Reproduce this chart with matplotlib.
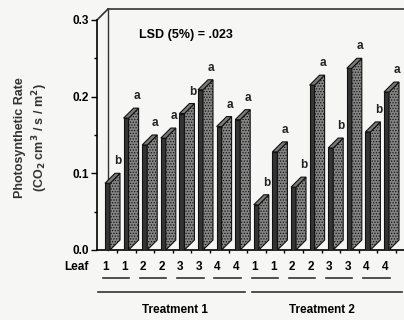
import matplotlib.pyplot as plt
from matplotlib.patches import Polygon

plt.rcParams['font.family'] = ['Liberation Sans', 'DejaVu Sans']
plt.rcParams['font.weight'] = 'bold'
plt.rcParams['hatch.color'] = '#5e5e5e'
plt.rcParams['hatch.linewidth'] = 0.6

# bar heights (front edge)
leaf = ['1', '1', '2', '2', '3', '3', '4', '4']
treatment1 = [0.087, 0.172, 0.137, 0.146, 0.178, 0.209, 0.161, 0.170]
treatment2 = [0.059, 0.128, 0.082, 0.215, 0.133, 0.237, 0.154, 0.206]
letters1 = ['b', 'a', 'a', 'a', 'b', 'a', 'a', 'a']
letters2 = ['b', 'a', 'b', 'a', 'b', 'a', 'b', 'a']
groups = ['Treatment 1', 'Treatment 2']

values = treatment1 + treatment2
letters = letters1 + letters2
labels = leaf + leaf

W, H = 404, 320
fig = plt.figure(figsize=(W / 100, H / 100), dpi=100)
fig.patch.set_facecolor('#f6f6f4')
ax = fig.add_axes([97 / W, 70 / H, 307 / W, 230 / H])
ax.set_facecolor('#f6f6f4')

# one x unit = bar spacing (18.6 px), one y unit = 766.7 px
px_x = 1 / 18.6
px_y = 0.3 / 230
xl, xr = -8 * px_x, 299 * px_x
ax.set_xlim(xl, xr)
ax.set_ylim(0, 0.3)

fw = 5 * px_x      # front face width
dx = 10 * px_x     # depth offset
dy = 10 * px_y

for i, v in enumerate(values):
    front = Polygon([(i, 0), (i + fw, 0), (i + fw, v), (i, v)],
                    facecolor='#343434', edgecolor='#111111', lw=0.8, zorder=3)
    side = Polygon([(i + fw, 0), (i + fw + dx, dy), (i + fw + dx, v + dy), (i + fw, v)],
                   facecolor='#858585', edgecolor='#111111', lw=0.8, zorder=3,
                   hatch='......')
    top = Polygon([(i, v), (i + fw, v), (i + fw + dx, v + dy), (i + dx, v + dy)],
                  facecolor='#7a7a7a', edgecolor='#111111', lw=0.8, zorder=4)
    for p in (front, side, top):
        ax.add_patch(p)
    ax.text(i + 13 * px_x, v + dy + 12 * px_y, letters[i], ha='center', va='center',
            fontsize=8.5, color='#222222', zorder=5)

# 3d frame
wall_dx = 11 * px_x
wall_dy = 11 * px_y
ax.plot([xl, xl + wall_dx], [0.3, 0.3 + wall_dy], color='#333333', lw=1.2, clip_on=False)
ax.plot([xl + wall_dx, xr], [0.3 + wall_dy, 0.3 + wall_dy], color='#333333', lw=1.2, clip_on=False)
ax.plot([xl + wall_dx, xl + wall_dx], [0.3 + wall_dy, 0.0], color='#333333', lw=1.0,
        clip_on=False, zorder=1)

for s in ['top', 'right']:
    ax.spines[s].set_visible(False)
ax.spines['left'].set_linewidth(1.2)
ax.spines['bottom'].set_linewidth(1.2)

ax.set_yticks([0.0, 0.1, 0.2, 0.3])
ax.set_yticklabels(['0.0', '0.1', '0.2', '0.3'], fontsize=8.5, fontweight='bold')
ax.set_yticks([0.05, 0.15, 0.25], minor=True)
ax.tick_params(axis='y', which='major', length=4, width=1, pad=2)
ax.tick_params(axis='y', which='minor', length=2, width=1)
ax.set_xticks([i + 12 * px_x for i in range(len(values))])
ax.set_xticklabels([])
ax.tick_params(axis='x', length=2.5, width=1)

# leaf labels and group lines
def ypx(p):
    return (250 - p) * px_y

for i, lab in enumerate(labels):
    ax.text(i + 0.05, ypx(267), lab, ha='center', va='center', fontsize=8.5, clip_on=False)
for k in range(0, len(values), 2):
    ax.plot([k - 0.12, k + 1.3], [ypx(278), ypx(278)], color='#333333', lw=1.2, clip_on=False)
ax.plot([-0.38, 7.53], [ypx(292), ypx(292)], color='#333333', lw=1.2, clip_on=False)
ax.plot([7.9, 15.95], [ypx(292), ypx(292)], color='#333333', lw=1.2, clip_on=False)
ax.text(3.75, ypx(310), groups[0], ha='center', va='center', fontsize=8.5, clip_on=False)
ax.text(11.65, ypx(310), groups[1], ha='center', va='center', fontsize=8.5, clip_on=False)

fig.text(76 / W, 1 - 267 / H, 'Leaf', ha='center', va='center', fontsize=8.5)
fig.text(186 / W, 1 - 35 / H, 'LSD (5%) = .023', ha='center', va='center', fontsize=9)
fig.text(20 / W, 1 - 138 / H, 'Photosynthetic Rate', rotation=90,
         ha='center', va='center', fontsize=9, color='#333333')
fig.text(40 / W, 1 - 138 / H, '(CO$_\\mathbf{2}$ cm$^\\mathbf{3}$ / s / m$^\\mathbf{2}$)', rotation=90,
         ha='center', va='center', fontsize=9, color='#333333')

fig.savefig('out.png', dpi=100, facecolor=fig.get_facecolor())
